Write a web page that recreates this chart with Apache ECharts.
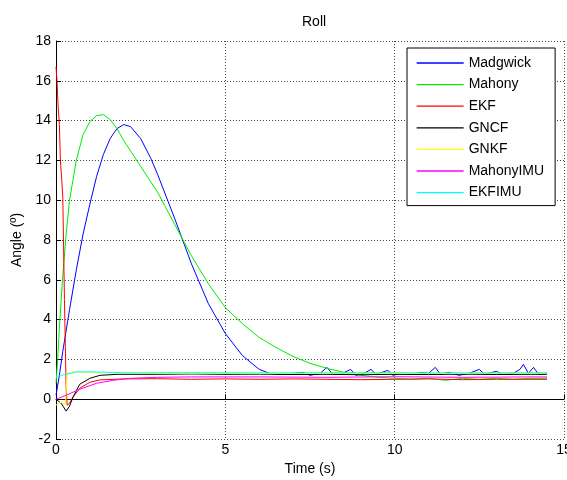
<!DOCTYPE html>
<html>
<head>
<meta charset="utf-8">
<script src="https://cdn.jsdelivr.net/npm/echarts@6/dist/echarts.min.js"></script>
<style>
  html, body { margin: 0; padding: 0; background: #fff; }
  #main { width: 567px; height: 480px; }
</style>
</head>
<body>
<div id="main"></div>
<script>
// x ticks / y ticks
const xTicks = [0, 5, 10, 15];
const yTicks = [-2, 0, 2, 4, 6, 8, 10, 12, 14, 16, 18];

const seriesNames = ['Madgwick', 'Mahony', 'EKF', 'GNCF', 'GNKF', 'MahonyIMU', 'EKFIMU'];
const seriesColors = ['#0000ff', '#00ee00', '#ff0000', '#000000', '#ffff00', '#ff00ff', '#00ffff'];

// [time (s), angle (deg)]
const madgwick = [
    [0, 0.2], [0.1, 1.2], [0.2, 2.4], [0.4, 4.5], [0.6, 6.5], [0.8, 8.3], [1.0, 9.8], [1.2, 11.2],
    [1.4, 12.3], [1.6, 13.1], [1.8, 13.6], [2.0, 13.8], [2.2, 13.7], [2.5, 13.1], [2.8, 12.1],
    [3.0, 11.3], [3.5, 9.1], [4.0, 6.8], [4.5, 4.8], [5.0, 3.3], [5.5, 2.2], [6.0, 1.5], [6.3, 1.3],
    [6.6, 1.25], [7.0, 1.3], [7.3, 1.35], [7.5, 1.2], [7.8, 1.3], [8.0, 1.6], [8.15, 1.3], [8.4, 1.25],
    [8.7, 1.5], [8.85, 1.2], [9.1, 1.3], [9.3, 1.5], [9.45, 1.25], [9.8, 1.45], [9.95, 1.2],
    [10.2, 1.3], [10.5, 1.25], [10.8, 1.35], [11.0, 1.3], [11.2, 1.6], [11.35, 1.25], [11.6, 1.35],
    [11.9, 1.2], [12.2, 1.3], [12.5, 1.5], [12.65, 1.25], [13.0, 1.4], [13.2, 1.25], [13.5, 1.3],
    [13.7, 1.5], [13.8, 1.75], [13.95, 1.3], [14.1, 1.6], [14.25, 1.25], [14.5, 1.3]
];
const mahony = [
    [0, 0.8], [0.05, 2.0], [0.1, 3.6], [0.2, 6.2], [0.3, 8.3], [0.4, 10.0], [0.6, 12.0], [0.8, 13.3],
    [1.0, 13.95], [1.2, 14.25], [1.4, 14.3], [1.6, 14.05], [1.8, 13.6], [2.0, 13.0], [2.5, 11.7],
    [3.0, 10.4], [3.5, 8.8], [4.0, 7.2], [4.5, 5.8], [5.0, 4.6], [5.5, 3.8], [6.0, 3.1], [6.5, 2.6],
    [7.0, 2.15], [7.5, 1.8], [8.0, 1.55], [8.5, 1.35], [9.0, 1.2], [9.5, 1.1], [10.0, 1.05],
    [10.5, 1.0], [11.0, 1.05], [11.5, 0.95], [12.0, 1.05], [12.5, 1.0], [13.0, 1.05], [13.5, 1.0],
    [14.0, 1.05], [14.5, 1.05]
];
const ekf = [
    [0, 16.7], [0.03, 16.0], [0.06, 14.8], [0.1, 13.8], [0.13, 12.0], [0.17, 11.0], [0.2, 10.2],
    [0.25, 5.0], [0.3, 0.5], [0.33, -0.3], [0.4, -0.2], [0.5, 0.1], [0.7, 0.55], [1.0, 0.85],
    [1.3, 0.97], [2.0, 1.02], [3.0, 1.03], [4.0, 1.0], [5.0, 1.02], [6.0, 1.0], [7.0, 1.02],
    [8.0, 1.0], [9.0, 0.98], [10.0, 1.0], [11.0, 1.02], [12.0, 0.98], [13.0, 1.0], [14.0, 1.0],
    [14.5, 1.0]
];
const gncf = [
    [0, 0.0], [0.15, -0.2], [0.3, -0.6], [0.4, -0.35], [0.5, 0.1], [0.7, 0.75], [1.0, 1.05],
    [1.3, 1.2], [1.8, 1.25], [3.0, 1.25], [4.0, 1.27], [5.0, 1.25], [6.0, 1.26], [7.0, 1.24],
    [8.0, 1.25], [9.0, 1.23], [10.0, 1.25], [11.0, 1.24], [12.0, 1.26], [13.0, 1.24], [14.0, 1.25],
    [14.5, 1.25]
];
const gnkf = [
    [0, -0.3], [0.15, -0.15], [0.28, -0.25], [0.33, 1.3], [0.5, 1.38], [1.0, 1.35], [2.0, 1.32],
    [3.0, 1.3], [5.0, 1.3], [7.0, 1.29], [9.0, 1.3], [11.0, 1.29], [13.0, 1.3], [14.5, 1.3]
];
const mahonyImu = [
    [0, 0.0], [0.3, 0.2], [0.7, 0.5], [1.2, 0.8], [1.7, 0.95], [2.2, 1.05], [3.0, 1.1], [4.0, 1.12],
    [6.0, 1.12], [8.0, 1.1], [10.0, 1.13], [12.0, 1.1], [14.0, 1.12], [14.5, 1.12]
];
const ekfImu = [
    [0, 1.15], [0.3, 1.25], [0.6, 1.37], [1.0, 1.38], [1.5, 1.35], [2.0, 1.33], [4.0, 1.33],
    [6.0, 1.32], [8.0, 1.33], [10.0, 1.33], [12.0, 1.32], [14.0, 1.33], [14.5, 1.33]
];

const allData = [madgwick, mahony, ekf, gncf, gnkf, mahonyImu, ekfImu];

const chart = echarts.init(document.getElementById('main'));
const font = 'Liberation Sans, Arial, sans-serif';
const gridDots = { color: '#444', type: [1, 2], width: 1 };

const option = {
    backgroundColor: '#ffffff',
    animation: false,
    title: {
        text: 'Roll',
        left: 297,
        top: 10,
        textStyle: { fontFamily: font, fontSize: 14, fontWeight: 'normal', color: '#000' }
    },
    grid: { left: 56, right: 3, top: 41, bottom: 41, outerBoundsMode: 'none', containLabel: false },
    legend: {
        data: seriesNames,
        orient: 'vertical',
        left: 407,
        top: 48,
        padding: [8, 11, 6, 9],
        itemWidth: 47,
        itemHeight: 14,
        itemGap: 7.6,
        itemTextGap: 5,
        itemStyle: { opacity: 0 },
        lineStyle: { width: 1.3 },
        backgroundColor: '#ffffff',
        borderColor: '#000',
        borderWidth: 1,
        borderRadius: 0,
        textStyle: { fontFamily: font, fontSize: 14, color: '#000' }
    },
    xAxis: {
        type: 'value',
        min: 0,
        max: 15,
        interval: 5,
        name: 'Time (s)',
        nameLocation: 'middle',
        nameGap: 18,
        nameTextStyle: { fontFamily: font, fontSize: 14, color: '#000' },
        axisLine: { lineStyle: { color: '#000', width: 1 } },
        axisTick: { inside: true, length: 5, lineStyle: { color: '#000' } },
        axisLabel: { fontFamily: font, fontSize: 14, color: '#000', margin: 4 },
        splitLine: { show: true, lineStyle: gridDots }
    },
    yAxis: {
        type: 'value',
        min: -2,
        max: 18,
        interval: 2,
        name: 'Angle (º)',
        nameLocation: 'middle',
        nameRotate: 90,
        nameGap: 28,
        nameTextStyle: { fontFamily: font, fontSize: 14, color: '#000' },
        axisLine: { lineStyle: { color: '#000', width: 1 } },
        axisTick: { inside: true, length: 5, lineStyle: { color: '#000' } },
        axisLabel: { fontFamily: font, fontSize: 14, color: '#000', margin: 5 },
        splitLine: { show: true, lineStyle: gridDots }
    },
    series: seriesNames.map(function (name, i) {
        return {
            name: name,
            type: 'line',
            data: allData[i],
            symbol: 'none',
            showSymbol: false,
            color: seriesColors[i],
            lineStyle: { width: 1, color: seriesColors[i] }
        };
    })
};

chart.setOption(option);
</script>
</body>
</html>
